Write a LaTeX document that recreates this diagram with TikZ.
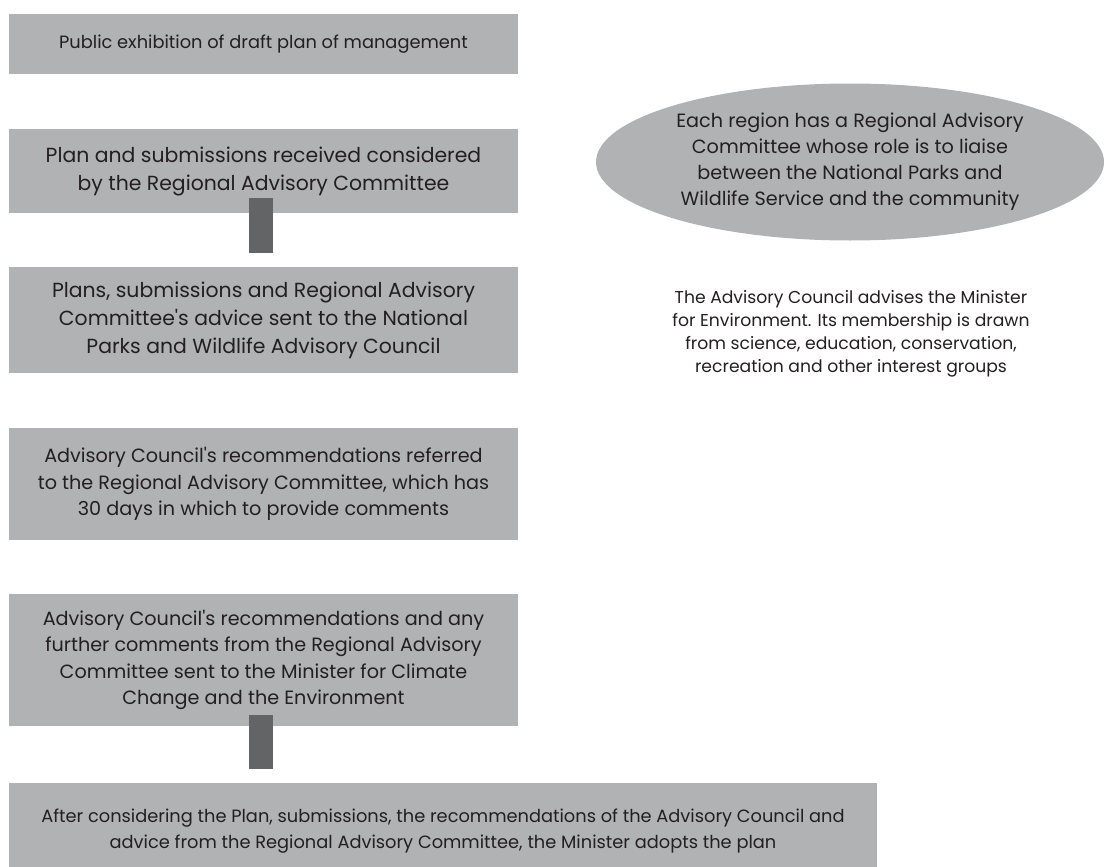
\documentclass[tikz,border=0pt]{standalone}
\usepackage{fontspec}
\setmainfont{Poppins}
\usetikzlibrary{shapes.geometric}
\definecolor{boxgray}{HTML}{B1B2B4}
\definecolor{linkgray}{HTML}{636466}
\definecolor{inkgray}{HTML}{231F20}
\def\boxwidth{509pt}

\begin{document}
\begin{tikzpicture}[x=1pt,y=-1pt]
    \tikzstyle{stage}=[rectangle, fill=boxgray, text=inkgray, minimum width=\boxwidth, inner sep=0pt, align=center]
    \tikzstyle{link}=[draw=linkgray, line width=24pt]
    \tikzstyle{remark}=[ellipse, fill=boxgray, text=inkgray, minimum width=508pt, minimum height=157pt, inner sep=0pt, align=center]
    \tikzstyle{note}=[text=inkgray, align=center]

    \useasboundingbox (0,0) rectangle (1104,867);

    % Draw the stages of the plan
    \node[stage, minimum height=60pt, font=\fontsize{17.8}{22}\selectfont] (S-1) at (263.5,44)
        {Public exhibition of draft plan of management};
    \node[stage, minimum height=84pt, font=\fontsize{20.4}{28}\selectfont] (S-2) at (263.5,171)
        {Plan and submissions received considered\\by the Regional Advisory Committee};
    \node[stage, minimum height=106pt, font=\fontsize{20.4}{28}\selectfont] (S-3) at (263.5,320)
        {Plans, submissions and Regional Advisory\\Committee\textquotesingle s advice sent to the National\\Parks and Wildlife Advisory Council};
    \node[stage, minimum height=112pt, font=\fontsize{19.2}{26.5}\selectfont] (S-4) at (263.5,484)
        {Advisory Council\textquotesingle s recommendations referred\\to the Regional Advisory Committee, which has\\30 days in which to provide comments};
    \node[stage, minimum height=132pt, font=\fontsize{19.2}{26.5}\selectfont] (S-5) at (263.5,660)
        {Advisory Council\textquotesingle s recommendations and any\\further comments from the Regional Advisory\\Committee sent to the Minister for Climate\\Change and the Environment};
    \node[stage, minimum width=868pt, minimum height=96pt, font=\fontsize{17.8}{26}\selectfont] (S-6) at (443,831)
        {After considering the Plan, submissions, the recommendations of the Advisory Council and\\advice from the Regional Advisory Committee, the Minister adopts the plan};

    % Connect the stages that follow on
    \foreach \source/\dest/\up in {2/3/15,5/6/11}
        \draw[link] ([xshift=-2.5pt,yshift=\up pt]S-\source.south) -- ([xshift=-2.5pt,yshift=14pt]S-\source.south |- S-\dest.north);

    % Draw the remarks on the right
    \node[remark, font=\fontsize{19.2}{26}\selectfont] (R-1) at (850,162)
        {Each region has a Regional Advisory\\Committee whose role is to liaise\\between the National Parks and\\Wildlife Service and the community};
    \node[note, font=\fontsize{17.2}{23}\selectfont] (R-2) at (851,334)
        {The Advisory Council advises the Minister\\for Environment. Its membership is drawn\\from science, education, conservation,\\recreation and other interest groups};
\end{tikzpicture}
\end{document}
